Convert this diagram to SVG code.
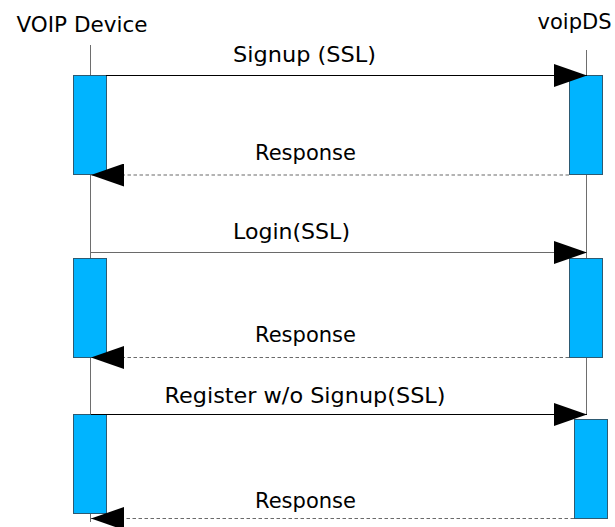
<svg xmlns="http://www.w3.org/2000/svg" width="615" height="527" viewBox="0 0 615 527">
  <style>
    .lbl { font-family: "DejaVu Sans", Verdana, sans-serif; font-size: 21px; fill: #000; text-anchor: middle; }
    .life { stroke: #6e6e6e; stroke-width: 1; fill: none; }
    .act { fill: #00b4ff; stroke: #2d5a72; stroke-width: 1; }
    .msg { stroke: #000; stroke-width: 1; fill: none; marker-end: url(#ah); }
    .msg.gray { stroke: #6a6a6a; }
    .ret { stroke: #6a6a6a; stroke-width: 1.2; stroke-dasharray: 3.5 2.5; fill: none; marker-end: url(#ah); }
  </style>
  <defs>
    <marker id="ah" viewBox="0 0 33 23" refX="33" refY="11.5" markerWidth="33" markerHeight="23" markerUnits="userSpaceOnUse" orient="auto">
      <path d="M0,0 L33,11.5 L0,23 Z" fill="#000"/>
    </marker>
  </defs>
  <rect width="615" height="527" fill="#fff"/>

  <g id="voip-device">
    <text class="lbl" x="82" y="32" textLength="131" lengthAdjust="spacingAndGlyphs">VOIP Device</text>
    <line class="life" x1="90.5" y1="45" x2="90.5" y2="522"/>
  </g>
  <g id="voipds">
    <text class="lbl" x="574.5" y="29" textLength="74" lengthAdjust="spacingAndGlyphs">voipDS</text>
    <line class="life" x1="586.5" y1="50" x2="586.5" y2="414"/>
  </g>

  <g id="act-device-1"><rect class="act" x="73.5" y="75.5" width="33" height="99"/></g>
  <g id="act-ds-1"><rect class="act" x="569.5" y="75.5" width="33" height="99"/></g>
  <g id="act-device-2"><rect class="act" x="73.5" y="258.5" width="33" height="99"/></g>
  <g id="act-ds-2"><rect class="act" x="569.5" y="258.5" width="33" height="99"/></g>
  <g id="act-device-3"><rect class="act" x="73.5" y="414.5" width="33" height="99"/></g>
  <g id="act-ds-3"><rect class="act" x="574.5" y="419.5" width="33" height="99"/></g>

  <g id="connectors">
    <line class="msg" x1="106" y1="75.5" x2="587" y2="75.5"/>
    <text class="lbl" x="304.5" y="62" textLength="143" lengthAdjust="spacingAndGlyphs">Signup (SSL)</text>

    <line class="ret" x1="569" y1="175" x2="91" y2="175"/>
    <text class="lbl" x="305.5" y="160" textLength="101" lengthAdjust="spacingAndGlyphs">Response</text>

    <line class="msg gray" x1="91" y1="252.5" x2="587" y2="252.5"/>
    <text class="lbl" x="291.5" y="239" textLength="117" lengthAdjust="spacingAndGlyphs">Login(SSL)</text>

    <line class="ret" x1="569" y1="357.5" x2="91" y2="357.5"/>
    <text class="lbl" x="305.5" y="342" textLength="101" lengthAdjust="spacingAndGlyphs">Response</text>

    <line class="msg" x1="91" y1="414.5" x2="587" y2="414.5"/>
    <text class="lbl" x="305" y="403" textLength="281" lengthAdjust="spacingAndGlyphs">Register w/o Signup(SSL)</text>

    <line class="ret" x1="574" y1="518.5" x2="91" y2="518.5"/>
    <text class="lbl" x="305.5" y="508" textLength="101" lengthAdjust="spacingAndGlyphs">Response</text>
  </g>
</svg>
